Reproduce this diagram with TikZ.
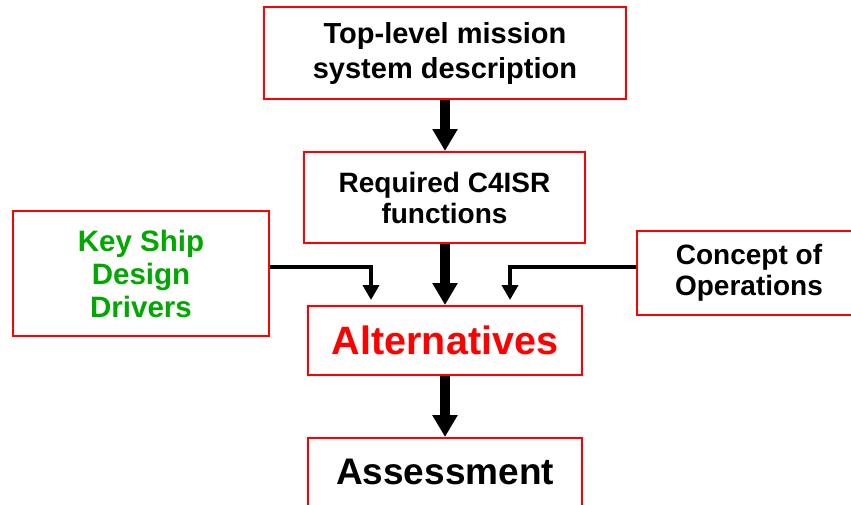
\documentclass[tikz,border=0pt]{standalone}
\usepackage{fontspec}
\setmainfont{Liberation Sans}
\usetikzlibrary{arrows.meta}
\definecolor{boxred}{RGB}{255,0,0}
\definecolor{drivergreen}{RGB}{0,168,0}
\begin{document}
\begin{tikzpicture}[x=1pt,y=-1pt,
  box/.style={draw=boxred, line width=2pt, fill=white, inner sep=0pt, align=center},
  bigflow/.style={line width=10pt, -{Triangle[width=24pt,length=22pt]}},
  feed/.style={line width=4pt, -{Triangle[width=16pt,length=15pt]}}]
  \useasboundingbox (0,0) rectangle (851,504);

  % process boxes
  \node[box, minimum width=362pt, minimum height=92pt,
        font=\fontsize{29}{35}\selectfont\bfseries] (mission) at (445,53)
        {Top-level mission\\system description};
  \node[box, minimum width=281pt, minimum height=91pt,
        font=\fontsize{28}{31}\selectfont\bfseries] (req) at (444.5,197.5)
        {Required C4ISR\\functions};
  \node[box, minimum width=256pt, minimum height=125pt, text=drivergreen,
        font=\fontsize{29.5}{33}\selectfont\bfseries] (key) at (141,273.5)
        {Key Ship\\Design\\Drivers};
  \node[box, minimum width=224pt, minimum height=84pt,
        font=\fontsize{28}{31}\selectfont\bfseries] (con) at (749,273)
        {Concept of\\Operations};
  \node[box, minimum width=274pt, minimum height=69pt, text=boxred,
        font=\fontsize{39.5}{46}\selectfont\bfseries] (alt) at (445,340.5)
        {Alternatives};
  \node[box, minimum width=274pt, minimum height=68pt,
        font=\fontsize{37}{44}\selectfont\bfseries] (assess) at (445,472)
        {Assessment};

  % main flow
  \draw[bigflow] (mission.south) -- (mission.south |- req.north);
  \draw[bigflow] (alt.north |- req.south) -- (alt.north);
  \draw[bigflow] (alt.south) -- (assess.north);

  % side inputs
  \coordinate (keyin) at (371,300);
  \coordinate (conin) at (510,300);
  \draw[feed] ([yshift=6.5pt]key.east) -| (keyin);
  \draw[feed] ([yshift=6pt]con.west) -| (conin);
\end{tikzpicture}
\end{document}
